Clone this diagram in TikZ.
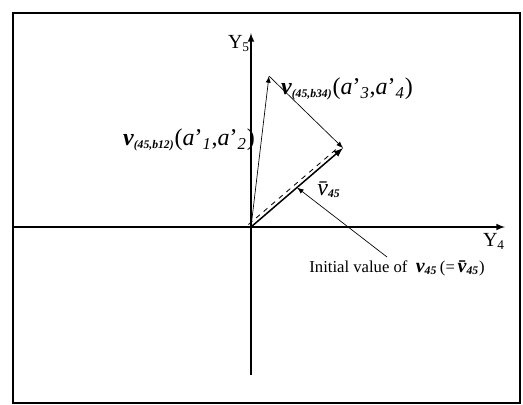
\documentclass[tikz,border=0pt]{standalone}
\usepackage{fontspec}
\setmainfont{Liberation Serif}
\usetikzlibrary{calc,positioning}

\newcommand{\vsub}[2][\Large]{{#1\bfseries\itshape v}\textsubscript{\bfseries\itshape #2}}
\newcommand{\apr}[1]{\textit{a}'\textsubscript{\textit{#1}}}

\begin{document}
\begin{tikzpicture}[x=0.6pt, y=-0.6pt, >=latex, every node/.style={inner sep=1pt}]
\useasboundingbox (0,0) rectangle (523,404);
\draw[line width=1pt] (13,13) rectangle (520,403);

% axes
\coordinate (O) at (251,227);
\coordinate (xleft) at (14,227);
\coordinate (xright) at (505,227);
\coordinate (ybottom) at (251,375);
\coordinate (ytop) at (251,33);
\draw[->, line width=0.8pt] (xleft) -- (xright);
\draw[->, line width=0.8pt] (ybottom) -- (ytop);
\node (ylab) at (239,44) {\large Y\textsubscript{5}};
\node (xlab) at (494,241) {\large Y\textsubscript{4}};

% vectors
\coordinate (P1) at (269,76);
\coordinate (P2) at (343,148);
\draw[->] (O) -- (P1);
\draw[->] (P1) -- (P2);
\draw[->, line width=0.9pt] (O) -- (P2);
\draw[dashed, line width=0.5pt] ([shift={(-2.5,-2.5)}]O) -- ([shift={(-2.5,-2.5)}]P2);

\node (lab12) at (189,140) {\vsub{(45,b12)}{\Large(\apr{1},\apr{2})}};
\node (lab34) at (347,89) {\vsub{(45,b34)}{\Large(\apr{3},\apr{4})}};
\node (vbar) at (329,190) {{\Large\itshape \={v}}\textsubscript{\bfseries\itshape 45}};

% initial value
\node (init) at (397,268) {Initial value of \ \vsub[\large]{45}\,(=\,{\large\bfseries\itshape \={v}}\textsubscript{\bfseries\itshape 45})};
\coordinate (lead) at (387,257);
\draw[->] (lead) -- ($(O)!0.5!(P2)$);
\end{tikzpicture}
\end{document}
